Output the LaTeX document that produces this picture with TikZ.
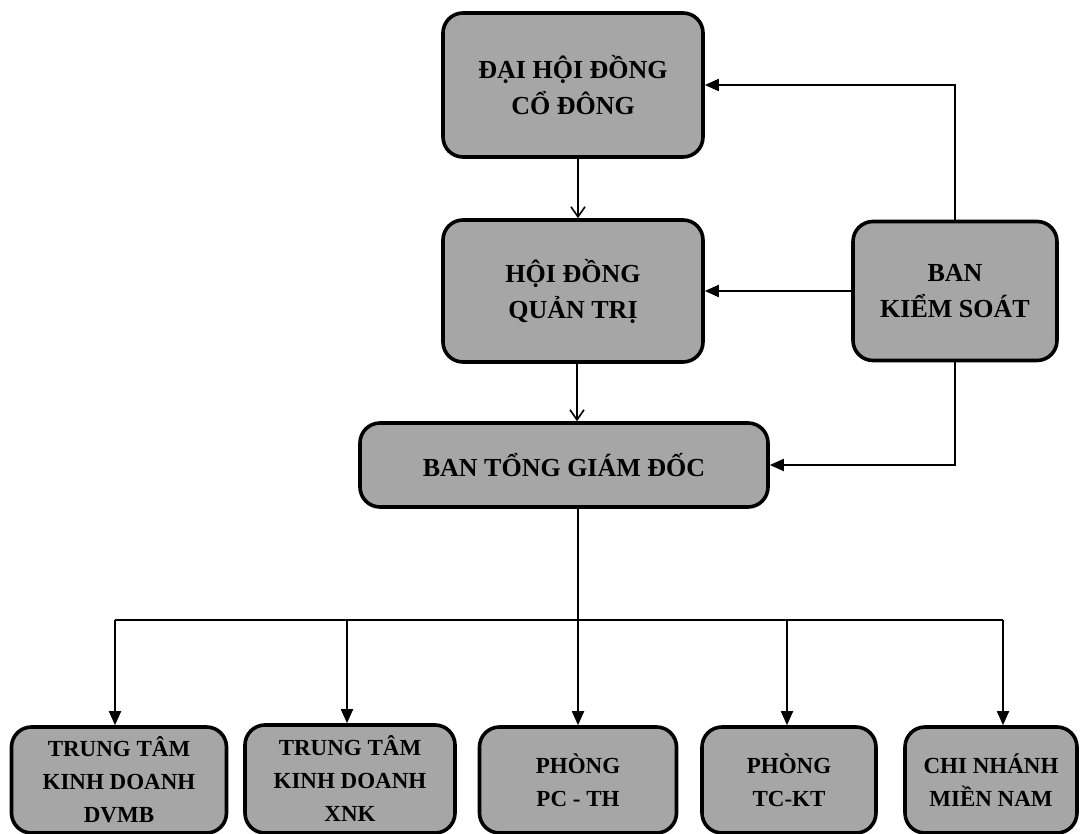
\documentclass[tikz,border=0pt]{standalone}
\usepackage{fontspec}
\setmainfont{Liberation Serif}
\usetikzlibrary{arrows.meta}
\definecolor{boxgray}{RGB}{166,166,166}
\tikzset{
  orgbox/.style={draw=black, line width=3.6pt, fill=boxgray, rounded corners=20pt,
    align=center, inner sep=0pt, font=\fontsize{26}{36}\selectfont\bfseries},
  smallbox/.style={orgbox, font=\fontsize{23}{33}\selectfont\bfseries},
  link/.style={line width=1.8pt, draw=black},
  tri/.style={link, -{Triangle[length=14pt,width=12pt]}},
  vee/.style={link, -{Straight Barb[length=10pt,width=14pt,line width=1.6pt]}}
}
\begin{document}
\begin{tikzpicture}[x=1pt,y=-1pt]
\useasboundingbox (0,0) rectangle (1082,834);
\node[orgbox, minimum width=260pt, minimum height=144pt] (dh) at (573,85) {ĐẠI HỘI ĐỒNG\\CỔ ĐÔNG};
\node[orgbox, minimum width=260pt, minimum height=142pt] (hd) at (573,291) {HỘI ĐỒNG\\QUẢN TRỊ};
\node[orgbox, minimum width=204pt, minimum height=139pt] (bks) at (955,291) {BAN\\KIỂM SOÁT};
\node[orgbox, minimum width=408pt, minimum height=84pt] (bt) at (564,465) {BAN TỔNG GIÁM ĐỐC};
\node[smallbox, minimum width=215pt, minimum height=106pt] (b1) at (119,780) {TRUNG TÂM\\KINH DOANH\\DVMB};
\node[smallbox, minimum width=210pt, minimum height=108pt] (b2) at (350,779) {TRUNG TÂM\\KINH DOANH\\XNK};
\node[smallbox, minimum width=197pt, minimum height=106pt] (b3) at (578,780) {PHÒNG\\PC - TH};
\node[smallbox, minimum width=174pt, minimum height=106pt] (b4) at (789,780) {PHÒNG\\TC-KT};
\node[smallbox, minimum width=172pt, minimum height=106pt] (b5) at (991,780) {CHI NHÁNH\\MIỀN NAM};
\coordinate (bus) at (578,620);
\draw[vee] ([xshift=5pt]dh.south) -- ([xshift=5pt]hd.north);
\draw[vee] ([xshift=4pt]hd.south) -- ([xshift=4pt]hd.south |- bt.north);
\draw[tri] (bks.north) |- (dh.east);
\draw[tri] (bks.west) -- (hd.east);
\draw[tri] (bks.south) |- (bt.east);
\draw[link] (bt.south -| bus) -- (bus);
\draw[link] ([xshift=-4pt]b1.north |- bus) -- ([xshift=12pt]b5.north |- bus);
\draw[tri] ([xshift=-4pt]b1.north |- bus) -- ([xshift=-4pt]b1.north);
\draw[tri] ([xshift=-3pt]b2.north |- bus) -- ([xshift=-3pt]b2.north);
\draw[tri] (bus) -- (b3.north);
\draw[tri] ([xshift=-2pt]b4.north |- bus) -- ([xshift=-2pt]b4.north);
\draw[tri] ([xshift=12pt]b5.north |- bus) -- ([xshift=12pt]b5.north);
\end{tikzpicture}
\end{document}
